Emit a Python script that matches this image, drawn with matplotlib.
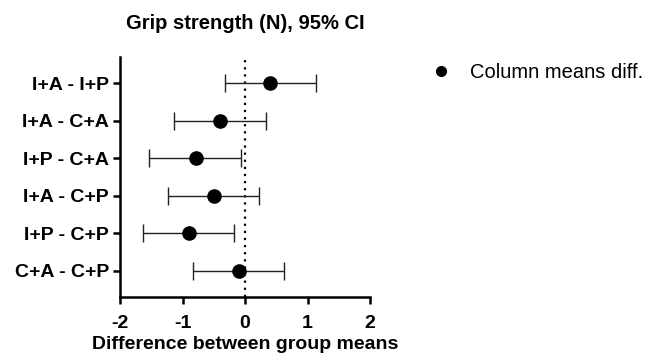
import matplotlib
matplotlib.use("Agg")
import matplotlib.pyplot as plt
from matplotlib.lines import Line2D
from matplotlib.ticker import FuncFormatter
import numpy as np

plt.rcParams['font.family'] = ['Liberation Sans', 'DejaVu Sans']

# comparisons, top to bottom
labels = ["I+A - I+P", "I+A - C+A", "I+P - C+A", "I+A - C+P", "I+P - C+P", "C+A - C+P"]
means = [0.40, -0.40, -0.79, -0.50, -0.90, -0.10]
lower = [-0.32, -1.13, -1.54, -1.24, -1.64, -0.83]
upper = [1.14, 0.34, -0.07, 0.23, -0.17, 0.63]
xticks = [-2, -1, 0, 1, 2]

means = np.array(means)
ypos = np.arange(len(labels))[::-1] + 1
err = [means - np.array(lower), np.array(upper) - means]

fig = plt.figure(figsize=(6.65, 3.6), dpi=100)
ax = fig.add_axes([0.1805, 0.175, 0.3759, 0.667])

ax.axvline(0, color="black", linestyle=(0, (1, 2.2)), linewidth=1.6, zorder=1)
ax.errorbar(means, ypos, xerr=err, fmt="o", color="black", ecolor="#222222",
            elinewidth=1, capsize=6.5, capthick=1, markersize=9.5, zorder=3)

ax.set_xlim(-2, 2)
ax.set_ylim(0.3, 6.7)
ax.set_xticks(xticks)
ax.xaxis.set_major_formatter(FuncFormatter(lambda v, p: "%d" % v))
ax.set_yticks(ypos)
ax.set_yticklabels(labels)
for lab in ax.get_xticklabels() + ax.get_yticklabels():
    lab.set_fontweight("bold")
    lab.set_fontsize(14)

for s in ["top", "right"]:
    ax.spines[s].set_visible(False)
for s in ["left", "bottom"]:
    ax.spines[s].set_linewidth(1.8)
ax.tick_params(width=1.8, length=5)
ax.tick_params(axis="y", pad=3)
ax.tick_params(axis="x", pad=8)

ax.set_title("Grip strength (N), 95% CI", fontweight="bold", fontsize=14.5, pad=20)
ax.set_xlabel("Difference between group means", fontweight="bold", fontsize=14, labelpad=3)

handle = Line2D([], [], marker="o", linestyle="none", color="black", markersize=7)
ax.legend(handles=[handle], labels=["Column means diff."], loc="center left",
          bbox_to_anchor=(1.244, 0.933), frameon=False, fontsize=14.5,
          handlelength=1.0, handletextpad=0.95, borderpad=0, borderaxespad=0)

plt.savefig("out.png", dpi=100)
